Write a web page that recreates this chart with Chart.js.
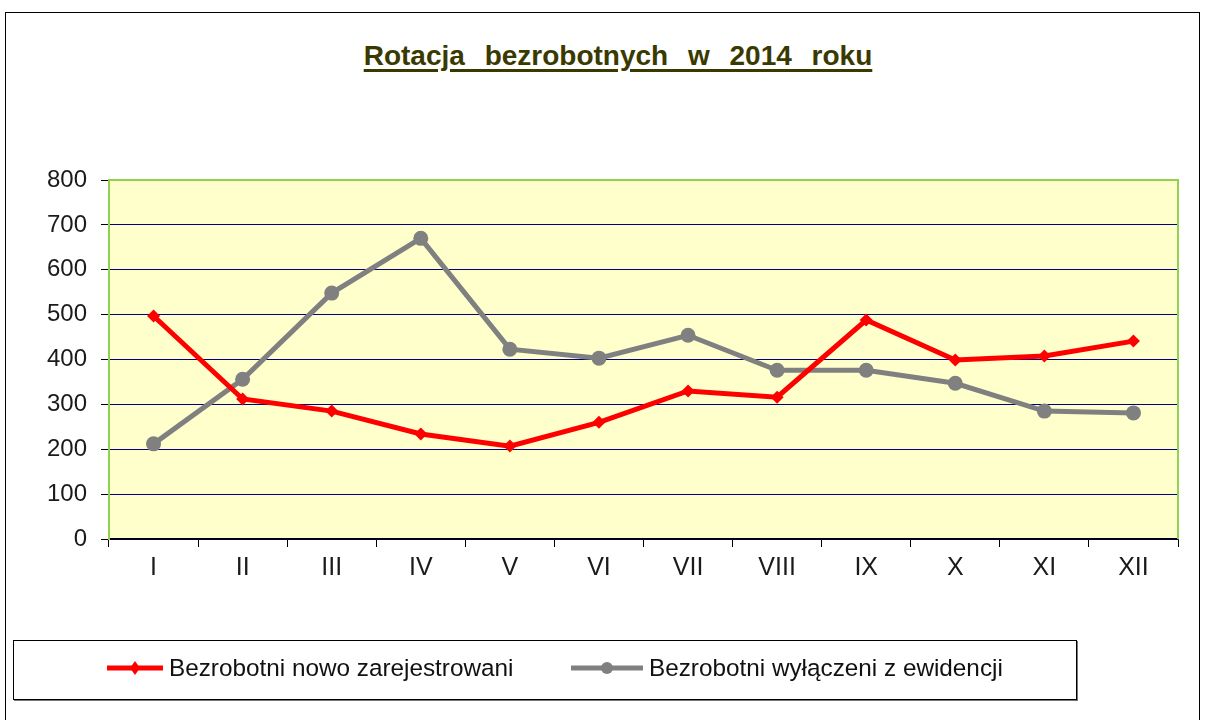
<!DOCTYPE html>
<html>
<head>
<meta charset="utf-8">
<script src="https://cdn.jsdelivr.net/npm/chart.js@4.4.1/dist/chart.umd.min.js"></script>
<style>
  body { margin: 0; background: #fff; font-family: "Liberation Sans", Arial, sans-serif; }
  #wrap { position: relative; width: 1205px; height: 720px; overflow: hidden; }
  #frame { position: absolute; left: 5px; top: 12px; width: 1195px; height: 720px; border: 1px solid #000; box-sizing: border-box; }
  #title { position: absolute; left: 0; width: 1236px; top: 40px; text-align: center; font-weight: bold; font-size: 28px; color: #3a3a00; text-decoration: underline; text-decoration-thickness: 3px; text-underline-offset: 4px; word-spacing: 12px; }
  #chart { position: absolute; left: 0; top: 0; }
  #legend { position: absolute; left: 13px; top: 640px; width: 1064px; height: 60px; border: 1px solid #000; box-sizing: border-box; box-shadow: 1px 1px 0 #777; }
  .item { position: absolute; top: 13px; font-size: 24.3px; color: #111; display: flex; align-items: center; }
  .item canvas { margin-right: 6px; }
</style>
</head>
<body>
<div id="wrap">
  <div id="frame"></div>
  <div id="title">Rotacja bezrobotnych w 2014 roku</div>
  <canvas id="chart" width="1205" height="720"></canvas>
  <div id="legend">
    <div class="item" style="left:93px"><canvas id="ico0" width="56" height="20"></canvas><span id="lab0"></span></div>
    <div class="item" style="left:557px"><canvas id="ico1" width="72" height="20"></canvas><span id="lab1"></span></div>
  </div>
</div>
<script>
const months = ['I', 'II', 'III', 'IV', 'V', 'VI', 'VII', 'VIII', 'IX', 'X', 'XI', 'XII'];
const seriesNames = ['Bezrobotni nowo zarejestrowani', 'Bezrobotni wyłączeni z ewidencji'];
const registered = [497, 312, 285, 234, 207, 260, 330, 316, 488, 399, 408, 441];
const removed = [212, 356, 548, 670, 423, 403, 454, 376, 376, 347, 285, 281];
const yTicks = [0, 100, 200, 300, 400, 500, 600, 700, 800];

const plotBg = {
  id: 'plotBg',
  beforeDraw(chart) {
    const a = chart.chartArea, ctx = chart.ctx;
    ctx.save();
    ctx.fillStyle = '#ffffcc';
    ctx.fillRect(a.left, a.top, a.right - a.left, a.bottom - a.top);
    ctx.restore();
  },
  afterDatasetsDraw(chart) {
    const a = chart.chartArea, ctx = chart.ctx;
    ctx.save();
    ctx.strokeStyle = '#92d050';
    ctx.lineWidth = 2;
    ctx.beginPath();
    ctx.moveTo(a.left, a.bottom);
    ctx.lineTo(a.left, a.top);
    ctx.lineTo(a.right, a.top);
    ctx.lineTo(a.right, a.bottom);
    ctx.stroke();
    ctx.restore();
  }
};

new Chart(document.getElementById('chart'), {
  type: 'line',
  data: {
    labels: months,
    datasets: [
      {
        label: seriesNames[0],
        data: registered,
        borderColor: '#ff0000',
        backgroundColor: '#ff0000',
        borderWidth: 5,
        pointStyle: 'rectRot',
        pointRadius: 6.5,
        pointBorderWidth: 0,
        tension: 0
      },
      {
        label: seriesNames[1],
        data: removed,
        borderColor: '#808080',
        backgroundColor: '#808080',
        borderWidth: 5,
        pointStyle: 'circle',
        pointRadius: 7.5,
        pointBorderWidth: 0,
        tension: 0
      }
    ]
  },
  options: {
    responsive: false,
    animation: false,
    layout: { padding: { top: 180, right: 27, bottom: 0, left: 0 } },
    plugins: { legend: { display: false }, title: { display: false }, tooltip: { enabled: false } },
    scales: {
      x: {
        offset: true,
        afterFit(s) { s.height = 181; },
        grid: { offset: true, drawOnChartArea: false, color: '#000', tickLength: 8, lineWidth: 1 },
        border: { color: '#000', width: 1.5 },
        ticks: { color: '#1a1a1a', font: { family: 'Liberation Sans', size: 25 }, padding: 6 }
      },
      y: {
        min: 0, max: 800,
        afterFit(s) { s.width = 109; },
        afterBuildTicks(s) { s.ticks = yTicks.map(v => ({ value: v })); },
        grid: { color: '#000080', lineWidth: 1, tickLength: 8, tickColor: '#000' },
        border: { color: '#92d050', width: 2 },
        ticks: { color: '#1a1a1a', font: { family: 'Liberation Sans', size: 24 }, padding: 14 }
      }
    }
  },
  plugins: [plotBg]
});

// legend icons
function icon(id, color, style) {
  const c = document.getElementById(id), ctx = c.getContext('2d');
  const w = c.width, h = c.height / 2;
  ctx.strokeStyle = color; ctx.fillStyle = color; ctx.lineWidth = 5;
  ctx.beginPath(); ctx.moveTo(0, h); ctx.lineTo(w, h); ctx.stroke();
  ctx.beginPath();
  if (style === 'diamond') {
    ctx.moveTo(w / 2, h - 7); ctx.lineTo(w / 2 + 5, h); ctx.lineTo(w / 2, h + 7); ctx.lineTo(w / 2 - 5, h);
  } else {
    ctx.arc(w / 2, h, 6, 0, Math.PI * 2);
  }
  ctx.fill();
}
icon('ico0', '#ff0000', 'diamond');
icon('ico1', '#808080', 'circle');
document.getElementById('lab0').textContent = seriesNames[0];
document.getElementById('lab1').textContent = seriesNames[1];
</script>
</body>
</html>
